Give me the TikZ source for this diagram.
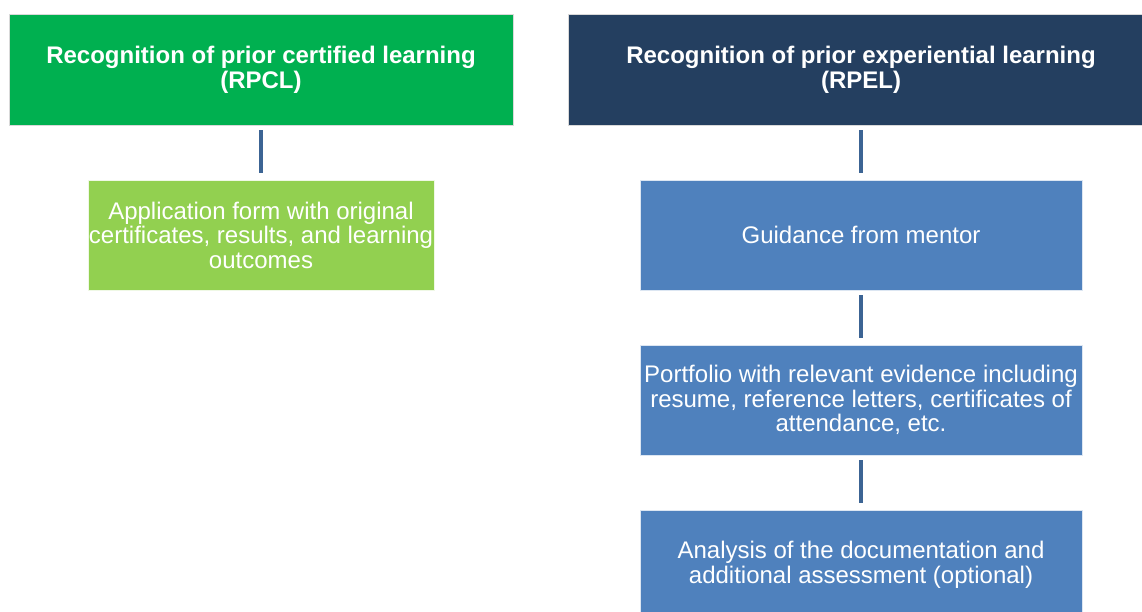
\documentclass[tikz,border=0pt]{standalone}
\usepackage{fontspec}
\setmainfont{Liberation Sans}
\definecolor{hdrgreen}{HTML}{00B050}
\definecolor{hdrnavy}{HTML}{243F60}
\definecolor{lightgreen}{HTML}{92D050}
\definecolor{boxblue}{HTML}{4F81BD}
\definecolor{connblue}{HTML}{3C6494}
\begin{document}
\begin{tikzpicture}[x=1pt,y=-1pt,
  header/.style={rectangle, draw=white!85!black, line width=0.5pt, text=white, font=\fontsize{24}{25}\selectfont\bfseries, align=center, minimum height=111pt, inner sep=0pt},
  stepbox/.style={rectangle, draw=white!80!boxblue, line width=0.5pt, text=white, font=\fontsize{24}{24.5}\selectfont, align=center, minimum height=110pt, inner sep=0pt},
  conn/.style={draw=connblue, line width=4.5pt, shorten <=5pt, shorten >=7pt}]
\useasboundingbox[fill=white] (0,0) rectangle (1142,612);
\node[header, fill=hdrgreen, minimum width=504pt] (rpcl) at (261,69.5) {Recognition of prior certified learning\\(RPCL)};
\node[header, fill=hdrnavy, minimum width=586pt] (rpel) at (861,69.5) {Recognition of prior experiential learning\\(RPEL)};
\node[stepbox, fill=lightgreen, draw=white!85!lightgreen, minimum width=346pt] (app) at (261,235) {Application form with original\\certificates, results, and learning\\outcomes};
\node[stepbox, fill=boxblue, minimum width=442pt] (guide) at (861,235) {Guidance from mentor};
\node[stepbox, fill=boxblue, minimum width=442pt] (port) at (861,400) {Portfolio with relevant evidence including\\resume, reference letters, certificates of\\attendance, etc.};
\node[stepbox, fill=boxblue, minimum width=442pt] (anal) at (861,565) {Analysis of the documentation and\\additional assessment (optional)};
\draw[conn] (rpcl) -- (app);
\draw[conn] (rpel) -- (guide);
\draw[conn] (guide) -- (port);
\draw[conn] (port) -- (anal);
\end{tikzpicture}
\end{document}
